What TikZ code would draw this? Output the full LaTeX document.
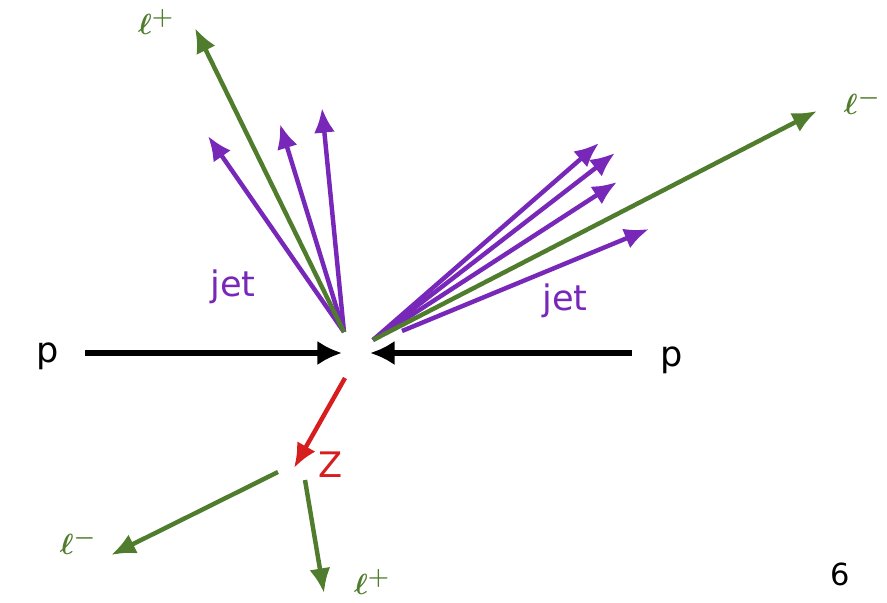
\documentclass[tikz,border=0pt]{standalone}
\usepackage{fontspec}
\setmainfont{DejaVu Sans}
\usetikzlibrary{arrows.meta}
\definecolor{lgreen}{RGB}{80,125,45}
\definecolor{jpurple}{RGB}{120,40,185}
\definecolor{zred}{RGB}{215,30,30}
\begin{document}
\begin{tikzpicture}[x=0.03cm,y=-0.03cm,
  beam/.style={line width=4.8pt,-{Latex[length=21pt,width=21pt]},black},
  lep/.style={line width=3.8pt,-{Latex[length=21pt,width=18pt]},lgreen},
  jetarr/.style={line width=3.8pt,-{Latex[length=21pt,width=18pt]},jpurple},
  zarr/.style={line width=3.8pt,-{Latex[length=21pt,width=18pt]},zred},
  lbl/.style={inner sep=0pt,font=\fontsize{30}{32}\selectfont},
  ell/.style={inner sep=0pt,text=lgreen,font=\fontsize{32}{34}\selectfont\boldmath}]
\useasboundingbox (0,0) rectangle (887,602);
% coordinates
\coordinate (pL0) at (85,353);  \coordinate (pL1) at (342,353);
\coordinate (pR0) at (632,353); \coordinate (pR1) at (370,353);
\coordinate (vA) at (344,332);
\coordinate (vB) at (373,340);
\coordinate (vB2) at (402,331);
\coordinate (lpT) at (195,28);
\coordinate (j1) at (208,136); \coordinate (j2) at (280,124); \coordinate (j3) at (322,108);
\coordinate (lmT) at (817,111);
\coordinate (k1) at (599,143); \coordinate (k2) at (615,153); \coordinate (k3) at (617,182); \coordinate (k4) at (649,229);
\coordinate (z0) at (345,378); \coordinate (z1) at (294,468);
\coordinate (d0) at (278,472); \coordinate (d1) at (111,555);
\coordinate (e0) at (305,480); \coordinate (e1) at (324,593);
% labels
\node[lbl] (pl) at (48,356) {p};
\node[lbl] (pr) at (672,360) {p};
\node[ell] (lpt) at (156,22) {$\ell^{+}$};
\node[ell] (lmt) at (862,102) {$\ell^{-}$};
\node[lbl,text=jpurple] (jetL) at (233,287) {jet};
\node[lbl,text=jpurple] (jetR) at (565,301) {jet};
\node[lbl,text=zred] (zl) at (331,465) {Z};
\node[ell] (lmb) at (78,542) {$\ell^{-}$};
\node[ell] (lpb) at (372,582) {$\ell^{+}$};
\node[inner sep=0pt,font=\fontsize{26}{28}\selectfont] (six) at (840,574) {6};
% arrows
\draw[beam] (pL0) -- (pL1);
\draw[beam] (pR0) -- (pR1);
\draw[jetarr] (vA) -- (j1);
\draw[jetarr] (vA) -- (j2);
\draw[jetarr] (vA) -- (j3);
\draw[lep] (vA) -- (lpT);
\draw[jetarr] (vB) -- (k1);
\draw[jetarr] (vB) -- (k2);
\draw[jetarr] (vB) -- (k3);
\draw[jetarr] (vB2) -- (k4);
\draw[lep] (vB) -- (lmT);
\draw[zarr] (z0) -- (z1);
\draw[lep] (d0) -- (d1);
\draw[lep] (e0) -- (e1);
\end{tikzpicture}
\end{document}
